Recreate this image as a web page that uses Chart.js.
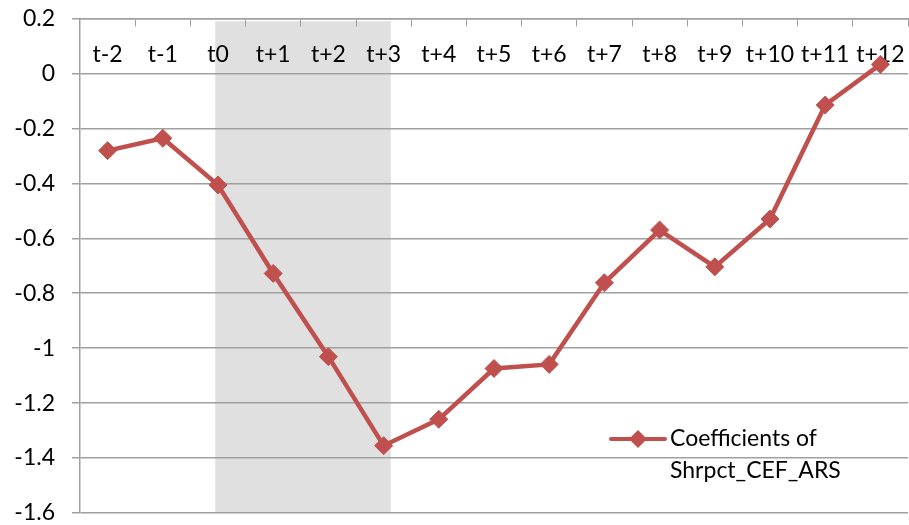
<!DOCTYPE html>
<html>
<head>
<meta charset="utf-8">
<script src="https://cdn.jsdelivr.net/npm/chart.js@4"></script>
<style>
  html, body { margin: 0; padding: 0; background: #fff; }
  #wrap { width: 909px; height: 525px; }
</style>
</head>
<body>
<div id="wrap"><canvas id="coef_chart"></canvas></div>
<script>
const periods = ['t-2', 't-1', 't0', 't+1', 't+2', 't+3', 't+4', 't+5', 't+6', 't+7', 't+8', 't+9', 't+10', 't+11', 't+12']
const coefficients = [-0.281, -0.236, -0.406, -0.728, -1.031, -1.355, -1.259, -1.074, -1.059, -0.762, -0.570, -0.704, -0.530, -0.115, 0.033]
const series_label = ['Coefficients of', 'Shrpct_CEF_ARS']
const shade_periods = ['t0', 't+3']
const shade_values = [-1.6, 0.19]

const red = '#C0504D'
const grid_color = '#A0A0A0'
const font_family = 'Lato, "Noto Sans", sans-serif'

// grey event window, drawn before the grid so grid lines show over it
const shade_plugin = {
    id: 'shade',
    beforeDraw(chart) {
        const x = chart.scales.x
        const y = chart.scales.y
        const step = x.getPixelForValue(1) - x.getPixelForValue(0)
        const left = x.getPixelForValue(periods.indexOf(shade_periods[0])) - step * 0.05
        const right = x.getPixelForValue(periods.indexOf(shade_periods[1])) + step * 0.13
        const top = y.getPixelForValue(shade_values[1])
        const bottom = y.getPixelForValue(shade_values[0])
        const ctx = chart.ctx
        ctx.save()
        ctx.fillStyle = '#E0E0E0'
        ctx.fillRect(left, top, right - left, bottom - top)
        ctx.restore()
    }
}

// two-line legend inside the plot
const legend_plugin = {
    id: 'inner_legend',
    afterDraw(chart) {
        const area = chart.chartArea
        const ctx = chart.ctx
        const x0 = area.right - 297
        const y0 = area.bottom - 74
        ctx.save()
        ctx.strokeStyle = red
        ctx.lineWidth = 4
        ctx.lineCap = 'round'
        ctx.beginPath()
        ctx.moveTo(x0, y0)
        ctx.lineTo(x0 + 54, y0)
        ctx.stroke()
        ctx.fillStyle = red
        ctx.beginPath()
        ctx.moveTo(x0 + 27, y0 - 9)
        ctx.lineTo(x0 + 36, y0)
        ctx.lineTo(x0 + 27, y0 + 9)
        ctx.lineTo(x0 + 18, y0)
        ctx.closePath()
        ctx.fill()
        ctx.fillStyle = '#000'
        ctx.font = '23px ' + font_family
        ctx.textBaseline = 'middle'
        ctx.textAlign = 'left'
        series_label.forEach((line, i) => ctx.fillText(line, x0 + 59, y0 + i * 32))
        ctx.restore()
    }
}

const data_coef = {
    labels: periods,
    datasets: [{
        label: series_label.join(' '),
        data: coefficients,
        borderColor: red,
        backgroundColor: red,
        borderWidth: 4.5,
        pointStyle: 'rectRot',
        pointRadius: 9,
        pointBorderWidth: 1,
        tension: 0
    }]
}

const options_coef = {
    responsive: true,
    maintainAspectRatio: false,
    animation: false,
    layout: {
        autoPadding: false,
        padding: { top: 18.5, right: 1, bottom: 12, left: 0 }
    },
    plugins: {
        legend: false,
        tooltip: { enabled: false }
    },
    scales: {
        x: {
            type: 'category',
            position: { y: 0.2 },
            offset: true,
            afterFit: scale => {
                scale.paddingLeft = 0
                scale.paddingRight = 0
            },
            grid: {
                display: true,
                offset: true,
                drawOnChartArea: false,
                drawTicks: true,
                tickLength: 7,
                color: grid_color
            },
            border: { display: true, color: grid_color, width: 1.5 },
            ticks: {
                color: '#000',
                padding: 15,
                maxRotation: 0,
                autoSkip: false,
                font: { family: font_family, size: 23 }
            }
        },
        y: {
            min: -1.6,
            max: 0.2,
            afterFit: scale => {
                scale.width = 80
                scale.paddingTop = 0
                scale.paddingBottom = 0
            },
            grid: {
                color: grid_color,
                lineWidth: 1.5,
                tickLength: 8
            },
            border: { display: true, color: grid_color, width: 1.5 },
            ticks: {
                stepSize: 0.2,
                color: '#000',
                padding: 17,
                font: { family: font_family, size: 23 },
                callback: value => String(+value.toFixed(1))
            }
        }
    }
}

new Chart(document.querySelector('#coef_chart'), {
    type: 'line',
    data: data_coef,
    options: options_coef,
    plugins: [shade_plugin, legend_plugin]
})
</script>
</body>
</html>
